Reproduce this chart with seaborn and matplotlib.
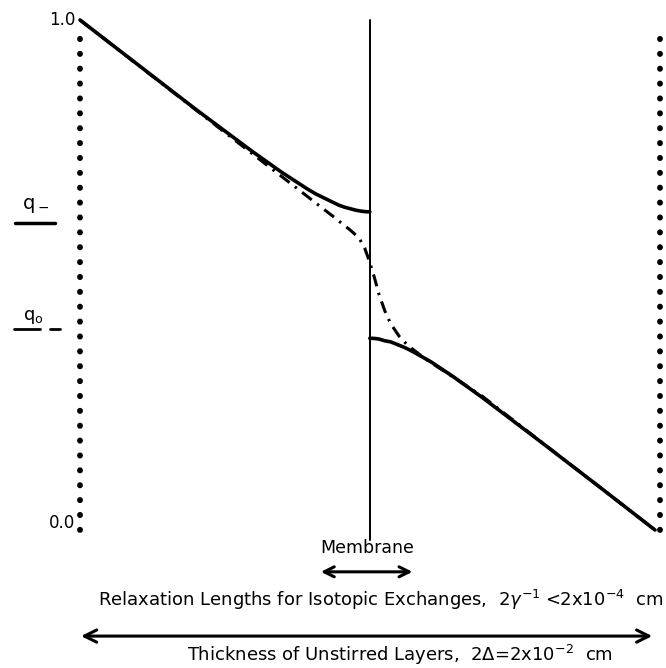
import matplotlib
matplotlib.use("Agg")
import matplotlib.pyplot as plt
import seaborn as sns
import pandas as pd
from matplotlib.lines import Line2D

# ---- data (x: 0 = left boundary, 1 = right boundary) ----
left_x = [0.0, 0.1, 0.2, 0.3, 0.35, 0.38, 0.395, 0.41, 0.43, 0.45, 0.46, 0.47, 0.48, 0.49, 0.498, 0.504]
left_y = [1.0, 0.913, 0.826, 0.742, 0.702, 0.680, 0.669, 0.659, 0.648, 0.637, 0.633, 0.630, 0.627, 0.625, 0.624, 0.624]

right_x = [0.504, 0.512, 0.52, 0.53, 0.54, 0.56, 0.57, 0.58, 0.61, 0.65, 0.70, 0.80, 0.90, 1.0]
right_y = [0.376, 0.3756, 0.3745, 0.371, 0.369, 0.360, 0.355, 0.349, 0.330, 0.300, 0.2595, 0.174, 0.0875, 0.0]

dd_x = [0.0, 0.2, 0.4, 0.44, 0.47, 0.485, 0.495, 0.504, 0.512, 0.52, 0.53, 0.54, 0.555, 0.57, 0.6, 0.7, 0.85, 1.0]
dd_y = [1.0, 0.825, 0.65, 0.615, 0.588, 0.573, 0.553, 0.525, 0.495, 0.462, 0.43, 0.405, 0.38, 0.362, 0.336, 0.262, 0.131, 0.0]

membrane_x = 0.504
boundary_x = [0.0, 1.009]
y_ticks = [0.0, 1.0]
y_tick_labels = ["0.0", "1.0"]

sns.set_theme(style="white")
plt.rcParams["font.family"] = ["DejaVu Sans"]
plt.rcParams["text.color"] = "black"

fig = plt.figure(figsize=(6.66, 6.68), dpi=100)
ax = fig.add_axes([80 / 666, (668 - 530) / 668, 575 / 666, 510 / 668])
ax.set_xlim(0, 1)
ax.set_ylim(0, 1)
ax.axis("off")

# dotted boundaries
for bx in boundary_x:
    sns.lineplot(x=[bx, bx], y=[0.0, 0.98], estimator=None, sort=False, ax=ax,
                 color="black", linewidth=4.2, linestyle=(0, (0.05, 2.5)),
                 dash_capstyle="round", clip_on=False)

# membrane
sns.lineplot(x=[membrane_x, membrane_x], y=[-0.02, 1.0], estimator=None, sort=False, ax=ax,
             color="black", linewidth=1.4, clip_on=False)

# solid curves
sns.lineplot(x=left_x, y=left_y, estimator=None, sort=False, ax=ax,
             color="black", linewidth=2.6, clip_on=False)
sns.lineplot(x=right_x, y=right_y, estimator=None, sort=False, ax=ax,
             color="black", linewidth=2.6, clip_on=False)
# dash-dot curve
sns.lineplot(x=dd_x, y=dd_y, estimator=None, sort=False, ax=ax,
             color="black", linewidth=2.2, linestyle=(0, (4, 2.2, 0.8, 2.2)), clip_on=False)

# y labels
for v, lab in zip(y_ticks, y_tick_labels):
    ax.text(-0.008, v + (0.014 if v == 0 else 0.0), lab, ha="right", va="center", fontsize=12)

# q labels
ax.text(-0.078, 0.618, r"$\mathregular{q_-}$", ha="center", va="bottom", fontsize=14)
ax.add_line(Line2D([-0.113, -0.043], [0.602, 0.602], color="black", lw=2.5, clip_on=False))
ax.text(-0.082, 0.40, r"$\mathregular{q_o}$", ha="center", va="bottom", fontsize=13)
ax.add_line(Line2D([-0.115, -0.07], [0.394, 0.394], color="black", lw=2.0, clip_on=False))
ax.add_line(Line2D([-0.052, -0.035], [0.394, 0.394], color="black", lw=2.0, clip_on=False))

# bottom annotations
ax.text(0.499, -0.035, "Membrane", ha="center", va="center", fontsize=12.5)
ax.annotate("", xy=(0.414, -0.082), xytext=(0.583, -0.082), xycoords="data",
            arrowprops=dict(arrowstyle="<->", lw=2.2, color="black", mutation_scale=18),
            annotation_clip=False)
ax.text(0.523, -0.137,
        r"Relaxation Lengths for Isotopic Exchanges,  2$\gamma^{-1}$ <2x10$^{-4}$  cm",
        ha="center", va="center", fontsize=13)
ax.annotate("", xy=(-0.003, -0.208), xytext=(1.0, -0.208), xycoords="data",
            arrowprops=dict(arrowstyle="<->", lw=2.2, color="black", mutation_scale=22),
            annotation_clip=False)
ax.text(0.557, -0.245, r"Thickness of Unstirred Layers,  2$\Delta$=2x10$^{-2}$  cm",
        ha="center", va="center", fontsize=13)

fig.savefig("out.png", dpi=100)
